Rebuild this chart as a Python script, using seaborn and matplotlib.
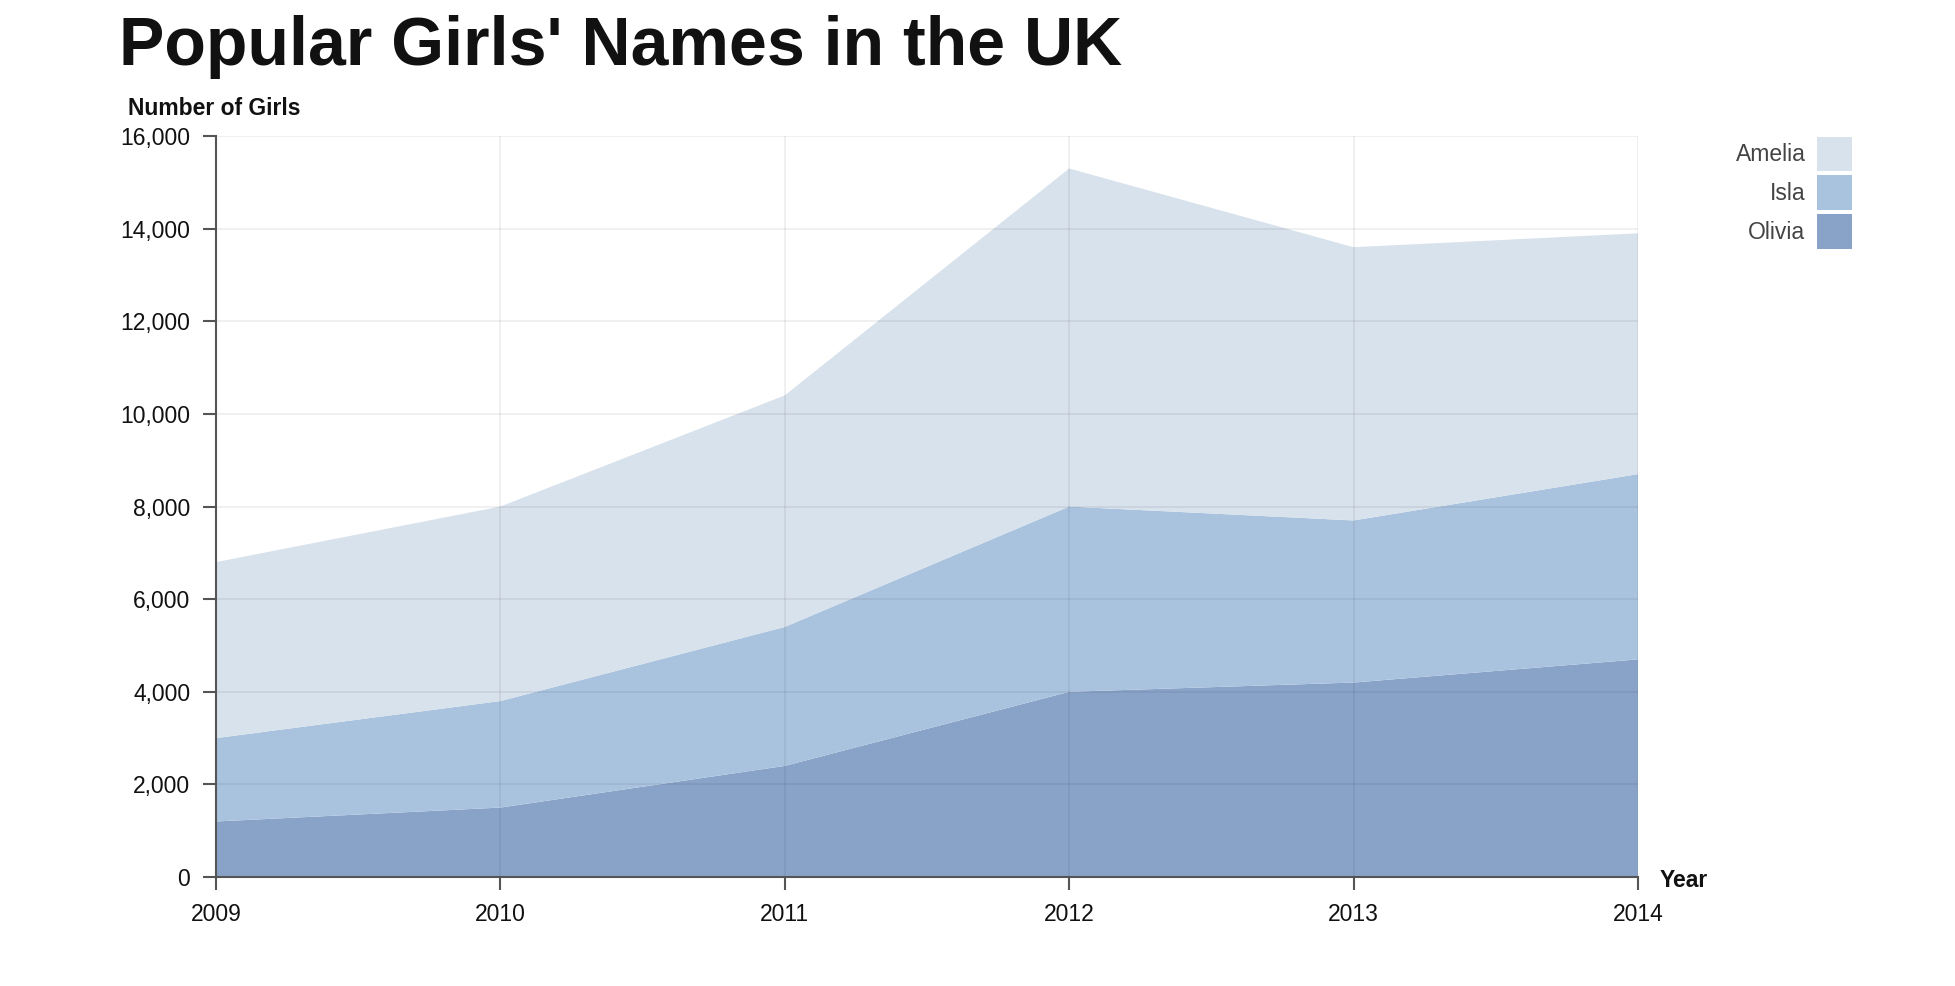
import matplotlib
matplotlib.use('Agg')
import matplotlib.pyplot as plt
import matplotlib.ticker as mticker
from matplotlib.patches import Patch
import seaborn as sns

years = [2009, 2010, 2011, 2012, 2013, 2014]
olivia = [1200, 1500, 2400, 4000, 4200, 4700]
isla = [1800, 2300, 3000, 4000, 3500, 4000]
amelia = [3800, 4200, 5000, 7300, 5900, 5200]
names = ['Olivia', 'Isla', 'Amelia']
colors = ['#89a3c8', '#a9c3de', '#d8e2ec']

sns.set_style('white')
plt.rcParams['font.family'] = ['Liberation Sans', 'DejaVu Sans']

fig = plt.figure(figsize=(19.56, 9.86), dpi=100)
ax = fig.add_axes([0.1104, 0.1105, 0.7270, 0.7515])

ax.stackplot(years, olivia, isla, amelia, colors=colors, labels=names,
             linewidth=0, edgecolor='none', zorder=1)

ax.set_xlim(2009, 2014)
ax.set_ylim(0, 16000)
ax.set_xticks(years)
ax.set_yticks(range(0, 16001, 2000))
ax.yaxis.set_major_formatter(mticker.FuncFormatter(lambda v, p: f'{int(v):,}'))
ax.grid(True, color='#000000', alpha=0.065, linewidth=1.3, zorder=2)
ax.set_axisbelow(False)

sns.despine(ax=ax)
for s in ['left', 'bottom']:
    ax.spines[s].set_color('#555555')
    ax.spines[s].set_linewidth(1.5)
    ax.spines[s].set_zorder(3)
ax.tick_params(axis='both', direction='out', length=9.5, width=1.5, color='#555555',
               labelsize=16.5, labelcolor='#111111', pad=9, left=True, bottom=True)

fig.text(0.061, 0.934, "Popular Girls' Names in the UK", fontsize=49, fontweight='bold',
         color='#111111', ha='left', va='baseline')
fig.text(0.0655, 0.890, 'Number of Girls', fontsize=16.5, fontweight='bold',
         color='#111111', ha='left', va='center')
fig.text(0.8485, 0.1065, 'Year', fontsize=16.5, fontweight='bold',
         color='#111111', ha='left', va='center')

handles = [Patch(facecolor=c, edgecolor='none') for c in colors[::-1]]
leg = fig.legend(handles, names[::-1], loc='upper right',
                 bbox_to_anchor=(0.9468, 0.8615), frameon=False, markerfirst=False,
                 fontsize=16.5, handlelength=1.53, handleheight=1.95,
                 labelspacing=0.18, handletextpad=0.5, borderpad=0, borderaxespad=0)
for t in leg.get_texts():
    t.set_color('#444444')

fig.savefig('out.png', dpi=100)
